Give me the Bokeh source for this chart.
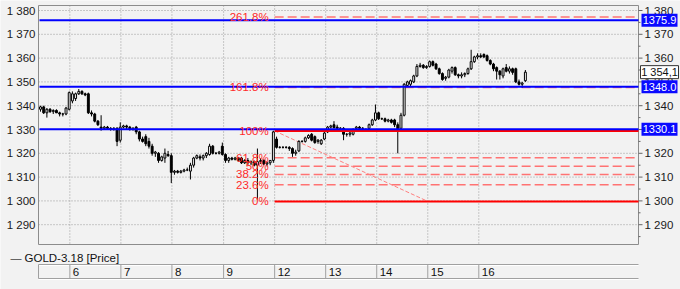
from bokeh.plotting import figure
from bokeh.models import Range1d, ColumnDataSource
from bokeh.embed import file_html
from bokeh.resources import INLINE
from bokeh.core.properties import value

# ---------------- data ----------------
opens = [1338.5,1339.5,1337,1338.5,1337.5,1338,1337,1336.5,1336.5,1338.5,
         1342,1343,1345,1346,1345,1345,1337,1336.5,1333.5,1331,
         1330.5,1331,1330.5,1330,1330.5,1325.5,1331,1331.5,1331,1330,
         1331,1329,1326,1327,1325,1323,1320,1320,1317,1318,
         1319.5,1319,1312,1312.5,1312,1312.5,1313,1312.5,1315,1318,
         1318.5,1318,1319,1319.5,1323,1320,1320,1323,1319.5,1317,
         1318,1317.5,1318,1318,1316,1317,1316,1316.5,1315,1316.5,
         1317,1315.5,1316,1317,1326,1322.5,1322.5,1322.5,1322.5,1322,
         1320,1321,1325,1325,1326.5,1328,1327,1325,1324,1326,
         1329,1331,1332,1331,1330.5,1330.5,1328,1328,1328,1330.5,
         1331,1330.5,1330,1330.5,1332,1334,1337,1334.5,1334.5,1333.5,
         1334,1334,1332,1330.5,1336,1348.5,1349,1350,1352.5,1356.5,
         1357,1356,1356.5,1358.5,1357.5,1355.5,1353.5,1351.5,1352,1354.5,
         1356,1353,1352.5,1353,1353.5,1355.5,1358.5,1360.5,1361,1361.5,
         1361,1359,1357.5,1356,1354.5,1352.5,1356,1354.5,1355.5,1355.5,
         1350,1349,1350.5]
highs = [1340,1340,1339,1339,1338.5,1338.5,1337.5,1337,1339.5,1346,
         1346,1345.5,1347,1346.5,1345.5,1345.5,1338,1337,1334,1336,
         1331.5,1331.5,1331,1331,1331,1333,1332,1332,1331.5,1331,
         1331.5,1329.5,1327,1328,1326.5,1324,1321,1320.5,1319,1322,
         1321,1320,1313,1313,1313,1313.5,1314,1316,1318.5,1319.5,
         1319.5,1319.5,1320.5,1324,1323.5,1320.5,1321,1324.5,1320,1318.5,
         1318.5,1318.5,1318.5,1318.5,1317.5,1318,1317,1317,1322,1318,
         1317.5,1316.5,1317,1329.5,1327,1323,1323,1323,1323,1322.5,
         1321.5,1325.5,1325.5,1327,1328,1328.5,1327.5,1326,1326,1329,
         1331.5,1332,1333.5,1332,1331,1331,1328.5,1329,1330.5,1331.5,
         1331.5,1331,1330.5,1332.5,1334.5,1340.5,1337.5,1335,1335,1334.5,
         1334.5,1334.5,1333,1337,1349.5,1350.5,1351,1353,1357.5,1358,
         1357.5,1357,1359,1359,1358,1356,1354,1352.5,1355.5,1356.5,
         1356.5,1353.5,1354,1354,1356,1363.5,1361,1362,1362,1362,
         1361.5,1359.5,1358,1356.5,1355,1356,1357.5,1356.5,1356,1356,
         1351,1350,1355]
lows = [1337.5,1336.5,1335,1337,1336.5,1337,1335.5,1335.5,1336,1338,
        1341,1342,1344.5,1344.5,1344,1336.5,1335.5,1333,1331.5,1329.5,
        1330,1330,1329.5,1329.5,1323,1324.5,1330.5,1330,1329.5,1329.5,
        1328,1325,1324.5,1323,1322,1319,1318.5,1316,1316.5,1316,
        1318.5,1307.5,1311,1311.5,1311.5,1312,1312.5,1309,1314,1317.5,
        1317,1317,1318,1319,1319.5,1319.5,1319.5,1319,1316,1316,
        1317,1317,1316.5,1315.5,1315.5,1315,1315,1314.5,1300.5,1315.5,
        1315,1314.5,1315,1316,1322,1322,1322,1322,1321,1318.5,
        1319,1320.5,1324.5,1324.5,1326,1325,1324,1324,1323.5,1325.5,
        1328.5,1330.5,1330.5,1330,1329.5,1325.5,1327,1327,1327.5,1330,
        1330,1330,1329.5,1330,1331.5,1333.5,1334,1334,1333,1333,
        1332.5,1331,1320,1330,1335.5,1348,1348,1349.5,1352,1356,
        1355.5,1355.5,1356,1356.5,1355,1353,1350.5,1350.5,1351.5,1353.5,
        1352.5,1351.5,1351.5,1352,1353,1355,1358,1359.5,1360,1360,
        1358.5,1357,1354.5,1351,1351,1351.5,1354,1353.5,1353,1349.5,
        1348.5,1347.5,1350]
closes = [1339.5,1337,1338.5,1337.5,1338,1337,1336.5,1336.5,1339,1345.5,
          1345,1345,1346,1345,1344.5,1337,1336.5,1333.5,1332,1330.5,
          1331,1330.5,1330,1330.5,1325,1331,1331.5,1331,1330,1330.5,
          1329,1326,1325,1324,1323,1320,1320.5,1317,1318.5,1320,
          1319,1312,1312.5,1312,1312.5,1313,1313,1315,1318,1319,
          1318,1319,1320,1323,1320,1320,1320.5,1319.5,1317,1318,
          1317.5,1318,1317,1316,1317,1316,1316.5,1315,1316.5,1317,
          1315.5,1316,1317,1329,1322.5,1322.5,1322.5,1322.5,1322,1320,
          1320.5,1325,1325,1326.5,1327.5,1325.5,1324.5,1325.5,1325.5,1328.5,
          1331,1331.5,1330.8,1330.5,1330.5,1328,1328,1328.5,1330,1331,
          1330.5,1330.5,1330,1332,1334,1337,1334.5,1334.5,1333.5,1334,
          1333,1332,1330,1336,1349,1350,1350.5,1352.5,1356.5,1357,
          1356,1356.5,1358.5,1357,1355.5,1353.5,1351,1352,1355,1356,
          1353,1352.5,1353,1353.5,1355.5,1358.5,1360.5,1361,1360.5,1360.5,
          1359,1357.5,1355.5,1354.5,1353,1355.5,1354.5,1355.5,1354,1350,
          1349,1349.5,1354.1]

day_labels = ["6", "7", "8", "9", "12", "13", "14", "15", "16"]
day_starts = [9.2, 25.2, 41.2, 57.4, 73.4, 89.4, 105.4, 121.4, 137.4]

price_ticks = [1290, 1300, 1310, 1320, 1330, 1340, 1350, 1360, 1370, 1380]
price_minor = [1285, 1295, 1305, 1315, 1325, 1335, 1345, 1355, 1365, 1375]

hlines = [1375.9, 1348.0, 1330.1]
hline_labels = ["1375.9", "1348.0", "1330.1"]
last_price = 1354.1
last_label = "1 354,1"

fib_low = 1299.8
fib_high = 1329.4
fib_start = 73.4
fib_trend_end = 121.4
fib_levels = [0.0, 23.6, 38.2, 50.0, 61.8, 100.0, 161.8, 261.8]
fib_texts = ["0%", "23.6%", "38.2%", "50%", "61.8%", "100%", "161.8%", "261.8%"]

legend_text = "GOLD-3.18 [Price]"

# ---------------- layout constants (pixels) ----------------
W, H = 680, 289
PL, PR, PT, PB = 38, 638, 5, 244        # price panel frame
CX0, CPX = 40.0, 3.19                   # pixel of bar 0, pixels per bar
PY_REF, P_REF, PPY = 10.0, 1380.0, 2.38 # pixel row of 1380, pixels per unit
DT, DB = 264, 278                       # date strip rows
BG = "#f2f2f2"
FONT = "Liberation Sans"
FS = "11.5px"

xr = Range1d(-CX0 / CPX, (W - CX0) / CPX)
yr = Range1d(P_REF - (H - PY_REF) / PPY, P_REF + PY_REF / PPY)
X_END = (PR - CX0) / CPX
X_BEG = (PL - CX0) / CPX

p = figure(width=W, height=H, x_range=xr, y_range=yr,
           output_backend="svg", toolbar_location=None,
           x_axis_location=None, y_axis_location=None,
           min_border=0, min_border_left=0, min_border_right=0,
           min_border_top=0, min_border_bottom=0,
           background_fill_color=BG, border_fill_color=BG, outline_line_color=None)
p.extra_x_ranges = {"px": Range1d(0, W)}
p.extra_y_ranges = {"px": Range1d(H, 0)}
p.xgrid.visible = False
p.ygrid.visible = False

# grid
n = len(price_ticks)
p.segment(x0=[PL] * n, x1=[PR] * n, y0=price_ticks, y1=price_ticks, x_range_name="px",
          line_color="#9a9a9a", line_dash="1 2", line_width=1)
m = len(day_starts)
p.segment(x0=day_starts, x1=day_starts, y0=[PT] * m, y1=[PB] * m, y_range_name="px",
          line_color="#9a9a9a", line_dash="1 2", line_width=1)

# frame border
p.quad(left=[PL], right=[PR], top=[PT], bottom=[PB], x_range_name="px", y_range_name="px",
       fill_color=None, line_color="#8c8c8c", line_width=1)

# left axis labels
lab = [f"{t // 1000} {t % 1000:03d}" for t in price_ticks]
p.text(x=[PL - 3] * n, y=price_ticks, text=lab, x_range_name="px", text_align="right",
       text_baseline="middle", text_font_size=FS, text_font=value(FONT), text_color="#1a1a1a")

# right axis ticks and labels
p.segment(x0=[PR] * n, x1=[PR + 4] * n, y0=price_ticks, y1=price_ticks, x_range_name="px",
          line_color="#666666", line_width=1)
k = len(price_minor)
p.segment(x0=[PR] * k, x1=[PR + 2] * k, y0=price_minor, y1=price_minor, x_range_name="px",
          line_color="#666666", line_width=1)
p.text(x=[PR + 6] * n, y=price_ticks, text=lab, x_range_name="px", text_align="left",
       text_baseline="middle", text_font_size=FS, text_font=value(FONT), text_color="#1a1a1a")

# Fibonacci levels
rng = fib_high - fib_low
lvl_prices = [fib_low + rng * l / 100.0 for l in fib_levels]
dashed_y = [v for v, l in zip(lvl_prices, fib_levels) if l not in (0.0, 100.0)]
solid_y = [v for v, l in zip(lvl_prices, fib_levels) if l in (0.0, 100.0)]
p.segment(x0=[fib_start] * len(dashed_y), x1=[X_END] * len(dashed_y), y0=dashed_y, y1=dashed_y,
          line_color="#ff7373", line_width=1.5, line_dash="9 4")
p.line([fib_start, fib_trend_end], [fib_high, fib_low], line_color="#ff8080",
       line_width=1, line_dash="4 2")

# Candles
idx = list(range(len(closes)))
src = ColumnDataSource(dict(
    x=idx, o=opens, h=highs, l=lows, c=closes,
    top=[max(o, c) for o, c in zip(opens, closes)],
    bottom=[min(o, c) for o, c in zip(opens, closes)],
    fill=["white" if c >= o else "black" for o, c in zip(opens, closes)],
))
p.segment(x0="x", y0="l", x1="x", y1="h", source=src, line_color="black", line_width=1)
p.vbar(x="x", width=0.6, top="top", bottom="bottom", fill_color="fill",
       line_color="black", line_width=1, source=src)

# solid fib lines, blue levels
p.segment(x0=[fib_start] * len(solid_y), x1=[X_END] * len(solid_y), y0=solid_y, y1=solid_y,
          line_color="#ff0000", line_width=2)
hn = len(hlines)
p.segment(x0=[PL + 1] * hn, x1=[PR] * hn, y0=hlines, y1=hlines, x_range_name="px",
          line_color="#0000ff", line_width=2)

# Fib labels
p.text(x=[fib_start] * len(fib_levels), y=lvl_prices, text=fib_texts, x_offset=-6,
       text_align="right", text_baseline="middle", text_color="#ff2a2a",
       text_font_size=FS, text_font=value(FONT))

# right price boxes
p.rect(x=[PR + 21] * hn, y=hlines, width=[36] * hn, height=[13] * hn, height_units="screen",
       x_range_name="px", fill_color="#0a0aff", line_color=None)
p.text(x=[PR + 21] * hn, y=hlines, text=hline_labels, x_range_name="px", text_align="center",
       text_baseline="middle", text_color="white", text_font_size="11px", text_font=value(FONT))
p.rect(x=[PR + 21], y=[last_price], width=[38], height=[13], height_units="screen",
       x_range_name="px", fill_color="white", line_color="#333333", line_width=1)
p.text(x=[PR + 21], y=[last_price], text=[last_label], x_range_name="px", text_align="center",
       text_baseline="middle", text_color="#111111", text_font_size="11px", text_font=value(FONT))

# ---------------- date strip ----------------
p.segment(x0=[PL, PL], x1=[PR, PR], y0=[DT, DB], y1=[DT, DB], x_range_name="px", y_range_name="px",
          line_color="#a0a0a0", line_width=1)
p.segment(x0=[PL, PL], x1=[PR, PR], y0=[DT + 1, DB + 1], y1=[DT + 1, DB + 1], x_range_name="px",
          y_range_name="px", line_color="#ffffff", line_width=1)
p.segment(x0=[X_BEG] + day_starts, x1=[X_BEG] + day_starts, y0=[DT] * (m + 1), y1=[DB] * (m + 1),
          y_range_name="px", line_color="#a0a0a0", line_width=1)
p.text(x=day_starts, y=[(DT + DB) / 2 + 0.5] * m, text=day_labels, x_offset=3, y_range_name="px",
       text_baseline="middle", text_align="left", text_font_size=FS,
       text_font=value(FONT), text_color="#111111")

# legend
p.text(x=[10], y=[257], text=["\u2014"], x_range_name="px", y_range_name="px",
       text_baseline="middle", text_font_size="11px", text_font=value(FONT), text_color="#444444")
p.text(x=[24], y=[257], text=[legend_text], x_range_name="px", y_range_name="px",
       text_baseline="middle", text_font_size=FS, text_font=value(FONT), text_color="#111111")

open("out.html", "w").write(file_html(p, INLINE))
